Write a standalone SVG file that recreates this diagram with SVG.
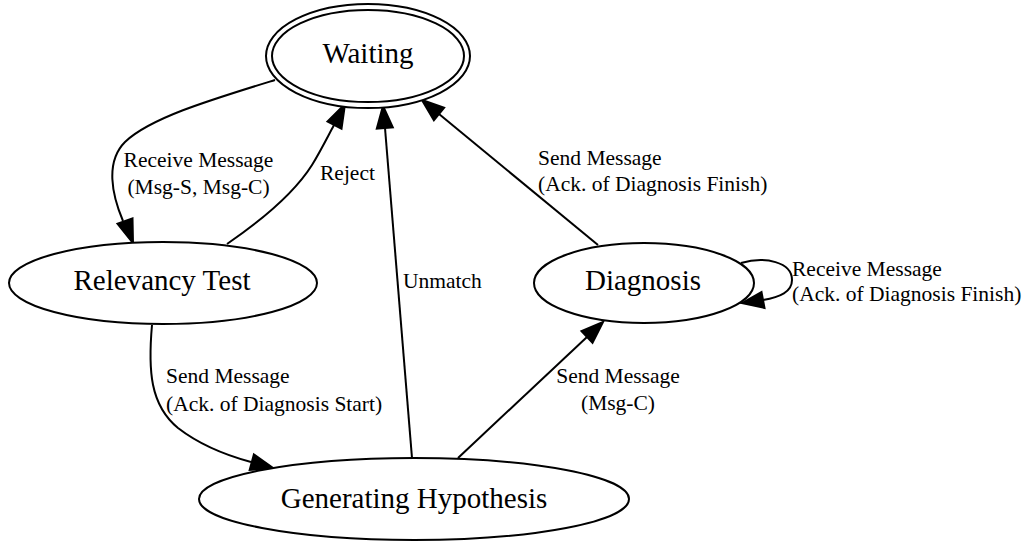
<svg xmlns="http://www.w3.org/2000/svg" width="1027" height="543" viewBox="0 0 1027 543">
  <style>
    .shape { fill: #ffffff; stroke: #000000; stroke-width: 2; }
    .node-label { font-family: "Liberation Serif", "Times New Roman", serif; font-size: 29px; fill: #000000; text-anchor: middle; }
    .edge { fill: none; stroke: #000000; stroke-width: 2; }
    .head { fill: #000000; stroke: #000000; stroke-width: 2; stroke-linejoin: miter; }
    .edge-label { font-family: "Liberation Serif", "Times New Roman", serif; font-size: 21.5px; fill: #000000; }
    .mid { text-anchor: middle; }
  </style>
  <rect width="1027" height="543" fill="#ffffff"/>

  <!-- transitions -->
  <g id="connectors">
    <!-- Waiting -> Relevancy Test -->
    <g id="e-receive">
      <path class="edge" d="M275,80 C210,100 150,118 125,142 C105,162 112,195 123,221"/>
      <polygon class="head" points="133,243 132.5,218.3 117.5,223.7"/>
      <text class="edge-label mid" x="198.5" y="167">Receive Message</text>
      <text class="edge-label mid" x="198.5" y="194">(Msg-S, Msg-C)</text>
    </g>
    <!-- Relevancy Test -> Waiting -->
    <g id="e-reject">
      <path class="edge" d="M227,244 C262,220 295,192 312,165 C320,152 327,138 334,125"/>
      <polygon class="head" points="345,104 341.5,128.6 327.5,121.4"/>
      <text class="edge-label" x="320" y="180">Reject</text>
    </g>
    <!-- Generating Hypothesis -> Waiting -->
    <g id="e-unmatch">
      <path class="edge" d="M412,458 L385,128"/>
      <polygon class="head" points="383,106 392.8,127.3 376.8,128.6"/>
      <text class="edge-label" x="403" y="288">Unmatch</text>
    </g>
    <!-- Diagnosis -> Waiting -->
    <g id="e-finish">
      <path class="edge" d="M598,245 L439,114"/>
      <polygon class="head" points="422,100 444.1,107.8 433.9,120.2"/>
      <text class="edge-label" x="538" y="165">Send Message</text>
      <text class="edge-label" x="538" y="191">(Ack. of Diagnosis Finish)</text>
    </g>
    <!-- Relevancy Test -> Generating Hypothesis -->
    <g id="e-start">
      <path class="edge" d="M152,325 C148,370 150,405 178,428 C200,445 225,455 251,462"/>
      <polygon class="head" points="273,468 249.7,469.9 253.9,454.5"/>
      <text class="edge-label" x="166" y="383">Send Message</text>
      <text class="edge-label" x="166" y="411">(Ack. of Diagnosis Start)</text>
    </g>
    <!-- Generating Hypothesis -> Diagnosis -->
    <g id="e-msgc">
      <path class="edge" d="M458,458 L587,337"/>
      <polygon class="head" points="603,322 592.5,342.8 581.5,331.2"/>
      <text class="edge-label mid" x="618" y="383">Send Message</text>
      <text class="edge-label mid" x="618" y="410">(Msg-C)</text>
    </g>
    <!-- Diagnosis self loop -->
    <g id="e-loop">
      <path class="edge" d="M741,263 C765,256 792,262 792,280 C792,292 780,297 763,300"/>
      <polygon class="head" points="742,303 761.5,292.1 764.5,307.9"/>
      <text class="edge-label" x="792" y="276">Receive Message</text>
      <text class="edge-label" x="792" y="301">(Ack. of Diagnosis Finish)</text>
    </g>
  </g>

  <!-- states -->
  <g id="waiting">
    <ellipse class="shape" cx="368" cy="56" rx="102" ry="52"/>
    <ellipse class="shape" cx="368" cy="56" rx="96" ry="46"/>
    <text class="node-label" x="368" y="63">Waiting</text>
  </g>
  <g id="relevancy-test">
    <ellipse class="shape" cx="163" cy="283" rx="154" ry="41"/>
    <text class="node-label" x="162" y="290">Relevancy Test</text>
  </g>
  <g id="diagnosis">
    <ellipse class="shape" cx="644" cy="283" rx="110" ry="40"/>
    <text class="node-label" x="643" y="290">Diagnosis</text>
  </g>
  <g id="generating-hypothesis">
    <ellipse class="shape" cx="414" cy="499" rx="215" ry="41"/>
    <text class="node-label" x="414" y="508">Generating Hypothesis</text>
  </g>
</svg>
